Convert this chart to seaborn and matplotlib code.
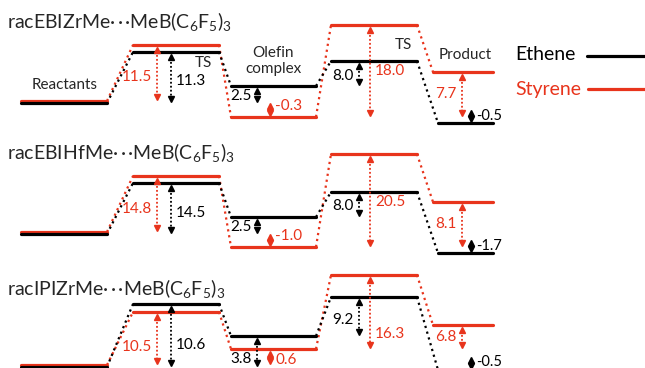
import pandas as pd
import matplotlib
matplotlib.use('Agg')
import matplotlib.pyplot as plt
import seaborn as sns

RED = '#E8341C'

# three complexes, one panel each
DOTS = '·\u2009·\u2009·'
TITLES = [
    'racEBIZrMe' + DOTS + r'MeB(C$_\mathregular{6}$F$_\mathregular{5}$)$_\mathregular{3}$',
    'racEBIHfMe' + DOTS + r'MeB(C$_\mathregular{6}$F$_\mathregular{5}$)$_\mathregular{3}$',
    'racIPIZrMe' + DOTS + r'MeB(C$_\mathregular{6}$F$_\mathregular{5}$)$_\mathregular{3}$',
]

# level heights (pixel rows), stages:
# Reactants, TS, Olefin complex, TS, Product
ETHENE_Y = [[103, 52, 86, 61, 123],
            [234, 183, 217, 192, 253],
            [367, 304, 336, 297, 370]]
STYRENE_Y = [[101, 45, 117, 25, 72],
             [232, 176, 247, 154, 202],
             [365, 312, 349, 275, 325]]

# energy labels (kcal/mol)
TS1_STY = ['11.5', '14.8', '10.5']
TS1_ETH = ['11.3', '14.5', '10.6']
OLE_ETH = ['2.5', '2.5', '3.8']
OLE_STY = ['-0.3', '-1.0', '0.6']
TS2_ETH = ['8.0', '8.0', '9.2']
TS2_STY = ['18.0', '20.5', '16.3']
PROD_STY = ['7.7', '8.1', '6.8']
PROD_ETH = ['-0.5', '-1.7', '-0.5']

# horizontal extent of each stage
STAGE_X = {'Ethene': [(21, 107), (133, 219), (231, 316), (331, 417), (438, 493)],
           'Styrene': [(21, 107), (133, 219), (231, 316), (331, 417), (433, 493)]}
PAL = {'Ethene': 'black', 'Styrene': RED}

# where along each arrow its number sits (0 = top, 1 = bottom), per panel
F_TS1 = [0.58, 0.6, 0.67]
F_OLE_E = [0.6, 0.65, 0.8]
F_OLE_S = [0.25, 0.1, 0.75]
F_TS2_S = [0.5, 0.52, 0.82]

sns.set_theme(style='white')
plt.rcParams['font.family'] = ['Lato', 'DejaVu Sans']
plt.rcParams['mathtext.fontset'] = 'custom'
plt.rcParams['mathtext.rm'] = 'Lato'

fig = plt.figure(figsize=(6.45, 3.68), dpi=100)
ax = fig.add_axes([0, 0, 1, 1])

# build level and connector tables
levels, links = [], []
seg = 0
for p in range(3):
    for name, ys in (('Styrene', STYRENE_Y[p]), ('Ethene', ETHENE_Y[p])):
        for i, (x0, x1) in enumerate(STAGE_X[name]):
            levels += [dict(x=x0, y=ys[i], series=name, seg=seg), dict(x=x1, y=ys[i], series=name, seg=seg)]
            seg += 1
            if i < 4:
                nx = STAGE_X[name][i + 1][0]
                links += [dict(x=x1, y=ys[i], series=name, seg=seg), dict(x=nx, y=ys[i + 1], series=name, seg=seg)]
                seg += 1
levels = pd.DataFrame(levels)
links = pd.DataFrame(links)

sns.lineplot(data=links, x='x', y='y', hue='series', units='seg', estimator=None, sort=False,
             palette=PAL, legend=False, lw=1.6, linestyle=(0, (1, 1.7)), ax=ax)
sns.lineplot(data=levels, x='x', y='y', hue='series', units='seg', estimator=None, sort=False,
             palette=PAL, legend=False, lw=2.3, ax=ax)
ax.set_xlim(0, 645)
ax.set_ylim(368, 0)
ax.set_axis_off()


def arrow(x, ya, yb, color, label, side, frac=0.5, fs=11):
    top, bot = min(ya, yb) + 2.5, max(ya, yb) - 2.5
    ax.plot([x, x], [top + 3, bot - 3], color=color, lw=1.3, linestyle=(0, (1, 1.2)))
    ax.plot([x], [top + 2], marker='^', ms=5, color=color, mec=color)
    ax.plot([x], [bot - 2], marker='v', ms=5, color=color, mec=color)
    ym = top + (bot - top) * frac
    if side == 'left':
        ax.text(x - 5, ym, label, color=color, fontsize=fs, ha='right', va='center')
    else:
        ax.text(x + 5, ym, label, color=color, fontsize=fs, ha='left', va='center')


for p in range(3):
    e, s = ETHENE_Y[p], STYRENE_Y[p]
    ax.text(7, s[1] - 23, TITLES[p], fontsize=14, ha='left', va='center')
    arrow(157, s[1], s[0], RED, TS1_STY[p], 'left', frac=F_TS1[p])
    arrow(171, e[1], e[0], 'black', TS1_ETH[p], 'right', frac=F_TS1[p])
    arrow(257, e[2], e[0], 'black', OLE_ETH[p], 'left', frac=F_OLE_E[p])
    arrow(270, s[2], s[0], RED, OLE_STY[p], 'right', frac=F_OLE_S[p])
    arrow(359, e[3], e[2], 'black', TS2_ETH[p], 'left', frac=0.6)
    arrow(370, s[3], s[2], RED, TS2_STY[p], 'right', frac=F_TS2_S[p])
    arrow(462, s[4], s[2], RED, PROD_STY[p], 'left')
    arrow(471, e[4] - 15, e[4], 'black', PROD_ETH[p], 'right', fs=10.5)

# stage names (top panel only)
ax.text(65, 85, 'Reactants', fontsize=11, ha='center', va='center')
ax.text(203, 63, 'TS', fontsize=11, ha='center', va='center')
ax.text(273, 61, 'Olefin\ncomplex', fontsize=11, ha='center', va='center', linespacing=1.25)
ax.text(403, 45, 'TS', fontsize=11, ha='center', va='center')
ax.text(465, 55, 'Product', fontsize=11, ha='center', va='center')

# legend
ax.text(515, 55, 'Ethene', fontsize=14, ha='left', va='center', color='black')
ax.text(515, 89, 'Styrene', fontsize=14, ha='left', va='center', color=RED)
ax.plot([587, 645], [56, 56], color='black', lw=2.3)
ax.plot([588, 645], [89, 89], color=RED, lw=2.3)

fig.savefig('out.png', dpi=100)
